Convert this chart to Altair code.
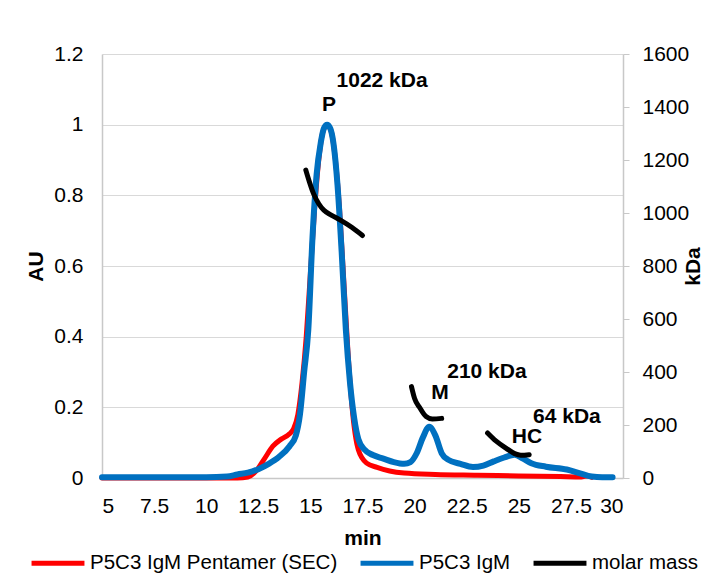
import altair as alt
import pandas as pd

FONT = "Liberation Sans"
S_RED = "P5C3 IgM Pentamer (SEC)"
S_BLUE = "P5C3 IgM"
S_MASS = "molar mass"

# ---- data ----
red_t = [5.0, 11.5, 12.0, 12.4, 12.8, 13.2, 13.6, 14.0, 14.2, 14.4, 14.6, 14.8, 15.0, 15.2,
         15.4, 15.6, 15.8, 16.0, 16.2, 16.4, 16.6, 16.8, 17.0, 17.3, 17.7, 18.2, 18.8, 19.5,
         21.0, 23.0, 25.0, 27.0, 28.0, 28.3, 28.5]
red_au = [0.0, 0.0, 0.003, 0.02, 0.055, 0.09, 0.11, 0.125, 0.14, 0.18, 0.27, 0.4, 0.58, 0.76,
          0.9, 0.98, 1.0, 0.98, 0.9, 0.76, 0.56, 0.36, 0.2, 0.08, 0.042, 0.03, 0.02, 0.014,
          0.01, 0.008, 0.006, 0.004, 0.003, 0.006, 0.002]

blue_t = [5.0, 8.0, 10.0, 11.0, 11.5, 12.0, 12.5, 13.0, 13.5, 14.0, 14.3, 14.5, 14.7, 14.9,
          15.1, 15.3, 15.5, 15.65, 15.8, 15.95, 16.1, 16.3, 16.5, 16.7, 16.9, 17.1, 17.3,
          17.6, 18.0, 18.5, 19.0, 19.5, 19.8, 20.1, 20.4, 20.7, 21.0, 21.3, 21.6, 22.2, 22.8,
          23.3, 23.8, 24.3, 24.8, 25.2, 25.6, 26.3, 27.3, 27.9, 28.5, 29.0, 29.5]
blue_au = [0.002, 0.002, 0.002, 0.004, 0.01, 0.015, 0.025, 0.04, 0.06, 0.09, 0.12, 0.18, 0.3,
           0.42, 0.68, 0.86, 0.95, 0.99, 1.0, 0.99, 0.95, 0.83, 0.64, 0.42, 0.27, 0.17, 0.11,
           0.08, 0.065, 0.055, 0.045, 0.04, 0.045, 0.07, 0.115, 0.145, 0.12, 0.07, 0.052,
           0.04, 0.031, 0.035, 0.047, 0.058, 0.066, 0.055, 0.042, 0.032, 0.024, 0.014, 0.004,
           0.002, 0.002]

mm_t = [14.78, 14.95, 15.15, 15.4, 15.65, 16.0, 16.4, 17.0, 17.5,
        19.85, 20.0, 20.25, 20.55, 20.85, 21.3,
        23.5, 23.9, 24.4, 24.8, 25.1, 25.5]
mm_kda = [1162, 1118, 1073, 1035, 1010, 992, 975, 945, 915,
          345, 300, 265, 232, 223, 225,
          170, 140, 112, 92, 86, 88]
mm_seg = ["P"] * 9 + ["M"] * 6 + ["HC"] * 6

ann_text = ["1022 kDa", "P", "210 kDa", "M", "64 kDa", "HC"]
ann_t = [18.44, 15.89, 23.47, 21.22, 27.31, 25.39]
ann_au = [1.124, 1.056, 0.300, 0.241, 0.173, 0.116]

x_ticks = [5, 7.5, 10, 12.5, 15, 17.5, 20, 22.5, 25, 27.5, 30]
au_ticks = [0, 0.2, 0.4, 0.6, 0.8, 1.0, 1.2]
kda_ticks = [0, 200, 400, 600, 800, 1000, 1200, 1400, 1600]

red_df = pd.DataFrame({"t": red_t, "au": red_au, "series": S_RED})
blue_df = pd.DataFrame({"t": blue_t, "au": blue_au, "series": S_BLUE})
mm_df = pd.DataFrame({"t": mm_t, "kda": mm_kda, "seg": mm_seg, "series": S_MASS})
ann_df = pd.DataFrame({"label": ann_text, "t": ann_t, "au": ann_au})

GRID = "#d9d9d9"
AXISC = "#c8c8c8"
FS = 21
LAB = dict(labelFont=FONT, labelFontSize=FS, labelColor="#000000",
           titleFont=FONT, titleFontSize=FS, titleFontWeight="bold", titleColor="#000000",
           domainWidth=1.5)

x_enc = alt.X("t:Q", scale=alt.Scale(domain=[5, 30], nice=False, zero=False),
              axis=alt.Axis(values=x_ticks, format=".4~g", title="min", grid=False,
                            ticks=False, tickSize=0, domainColor=AXISC, labelPadding=17,
                            titleY=66, titleBaseline="alphabetic", **LAB))
y_au = alt.Y("au:Q", scale=alt.Scale(domain=[0, 1.2], nice=False),
             axis=alt.Axis(values=au_ticks, format=".4~g", title="AU", orient="left",
                           grid=True, gridColor=GRID, ticks=False, tickSize=0,
                           domainColor=AXISC, labelPadding=19, titleAngle=270,
                           titleX=-66, titleY=212, titleAlign="center",
                           titleBaseline="middle", **LAB))
y_kda = alt.Y("kda:Q", scale=alt.Scale(domain=[0, 1600], nice=False),
              axis=alt.Axis(values=kda_ticks, format="d", title="kDa", orient="right",
                            grid=False, ticks=True, tickSize=6, tickColor=AXISC,
                            domainColor=AXISC, labelPadding=13, titleAngle=270,
                            titleX=70, titleY=212, titleAlign="center",
                            titleBaseline="middle", **LAB))

color_scale = alt.Scale(domain=[S_RED, S_BLUE, S_MASS],
                        range=["#FF0000", "#0070C0", "#000000"])
legend = alt.Legend(title=None, orient="none", direction="horizontal", legendX=-73,
                    legendY=480, symbolType="stroke", symbolSize=2800,
                    symbolStrokeWidth=5, labelFontSize=20.5, labelFont=FONT,
                    labelColor="#000000", labelOffset=3, columnPadding=12,
                    labelLimit=500, padding=0)
color_enc = alt.Color("series:N", scale=color_scale, legend=legend)

red = alt.Chart(red_df).mark_line(strokeWidth=5, interpolate="monotone", strokeCap="round").encode(
    x=x_enc, y=y_au, color=color_enc)
blue = alt.Chart(blue_df).mark_line(strokeWidth=6, interpolate="monotone", strokeCap="round").encode(
    x=x_enc, y=y_au, color=color_enc)
ann = alt.Chart(ann_df).mark_text(font=FONT, fontSize=21, fontWeight="bold", color="black",
                                  align="center", baseline="middle").encode(
    x=x_enc, y=y_au, text="label:N")

au_layer = alt.layer(red, blue, ann)

mass = alt.Chart(mm_df).mark_line(strokeWidth=5, interpolate="monotone", strokeCap="round").encode(
    x=x_enc, y=y_kda, color=color_enc, detail="seg:N")

chart = alt.layer(au_layer, mass).resolve_scale(y="independent").properties(
    width=521, height=424,
    background="white",
    autosize=alt.AutoSizeParams(type="none"),
    padding={"left": 94, "top": 46, "right": 84, "bottom": 97},
).configure_view(strokeWidth=0)

chart.save("out.html", embed_options={"renderer": "svg", "actions": False})
